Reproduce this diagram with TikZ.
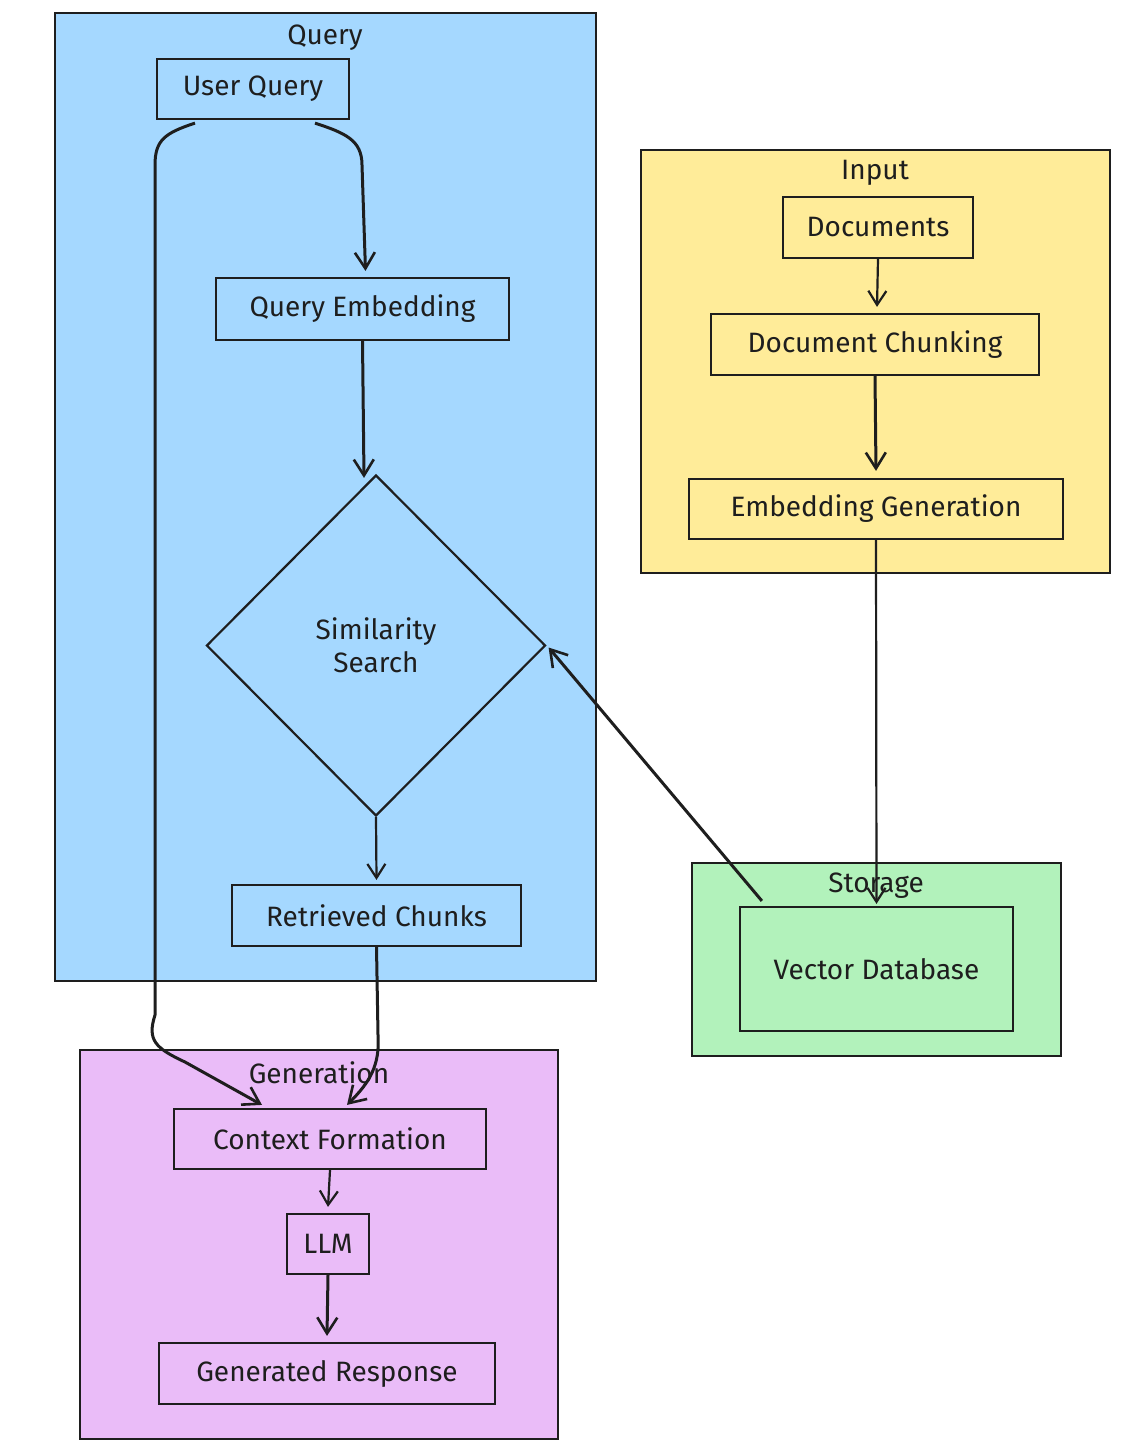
\documentclass[tikz,border=0pt]{standalone}
\usepackage{fontspec}
\setmainfont{Fira Sans}
\usetikzlibrary{arrows.meta,shapes.geometric,calc}
\definecolor{qblue}{HTML}{A5D8FF}
\definecolor{iyel}{HTML}{FFEC99}
\definecolor{sgrn}{HTML}{B2F2BB}
\definecolor{gpur}{HTML}{EABCF8}
\definecolor{ink}{HTML}{1E1E1E}
\begin{document}
\begin{tikzpicture}[x=1pt,y=-1pt,
  txt/.style={font=\fontsize{28}{33}\selectfont, text=ink},
  cluster/.style={draw=ink, line width=2.8pt, inner sep=0pt},
  clabel/.style={txt, inner sep=0pt},
  box/.style={draw=ink, line width=2.2pt, inner sep=0pt, txt},
  arr/.style={draw=ink, line width=3pt, -{Straight Barb[length=16pt,width=20pt,line width=2.6pt]}},
  thinarr/.style={draw=ink, line width=2.2pt, -{Straight Barb[length=14pt,width=18pt,line width=2.2pt]}},
]
\useasboundingbox (0,0) rectangle (1144,1448);
\fill[white] (0,0) rectangle (1144,1448);

% clusters
\node[cluster, fill=qblue, minimum width=541, minimum height=968] (qc) at (325.5,497) {};
\node[cluster, fill=iyel, minimum width=469, minimum height=423] (ic) at (875.5,361.5) {};
\node[cluster, fill=sgrn, minimum width=369, minimum height=193] (sc) at (876.5,959.5) {};
\node[cluster, fill=gpur, minimum width=478, minimum height=389] (gc) at (319,1244.5) {};

\node[clabel] (ql) at (325,38) {Query};
\node[clabel] (il) at (875,173) {Input};
\node[clabel] (sl) at (876,886) {Storage};
\node[clabel] (gl) at (319,1073) {Generation};

% query nodes
\node[box, minimum width=192, minimum height=60] (uq) at (253,89) {User Query};
\node[box, minimum width=293, minimum height=62] (qe) at (362.5,309) {Query Embedding};
\node[box, diamond, aspect=1, minimum width=339, minimum height=341, align=center] (ss) at (376,645.5) {Similarity\\Search};
\node[box, minimum width=289, minimum height=61] (rc) at (376.5,915.5) {Retrieved Chunks};

% input nodes
\node[box, minimum width=190, minimum height=61] (doc) at (878,227.5) {Documents};
\node[box, minimum width=328, minimum height=61] (dch) at (875,344.5) {Document Chunking};
\node[box, minimum width=374, minimum height=60] (eg) at (876,509) {Embedding Generation};

% storage
\node[box, minimum width=273, minimum height=124] (vdb) at (876.5,969) {Vector Database};

% generation
\node[box, minimum width=312, minimum height=60] (cf) at (330,1139) {Context Formation};
\node[box, minimum width=82, minimum height=60] (llm) at (328,1244) {LLM};
\node[box, minimum width=336, minimum height=61] (gr) at (327,1373.5) {Generated Response};

% edges
\draw[arr] ($(uq.south)+(62,3)$) .. controls (345,133) and (362,140) .. (362,165) -- ($(qe.north)+(3,-6)$);
\draw[arr] (qe.south) -- ($(ss.north)+(-12,4)$);
\draw[thinarr] (ss.south) -- ($(rc.north)+(0,-4)$);
\draw[arr] (rc.south) -- (378,1035) .. controls (380,1065) and (370,1082) .. ($(cf.north)+(17,-3)$);
\draw[arr] ($(uq.south)+(-58,3)$) .. controls (165,133) and (155,140) .. (155,165) -- (155,1015) .. controls (147,1040) and (155,1048) .. (185,1062) -- ($(cf.north)+(-68,-3)$);

\draw[thinarr] (doc.south) -- ($(dch.north)+(2,-6)$);
\draw[arr] (dch.south) -- ($(eg.north)+(0,-7)$);
\draw[thinarr] (eg.south) -- ($(vdb.north)+(0,-2)$);
\draw[arr] ($(vdb.north west)+(23,-5)$) -- ($(ss.east)+(2,2)$);

\draw[thinarr] (cf.south) -- ($(llm.north)+(0,-6)$);
\draw[arr] (llm.south) -- ($(gr.north)+(0,-6)$);
\end{tikzpicture}
\end{document}
